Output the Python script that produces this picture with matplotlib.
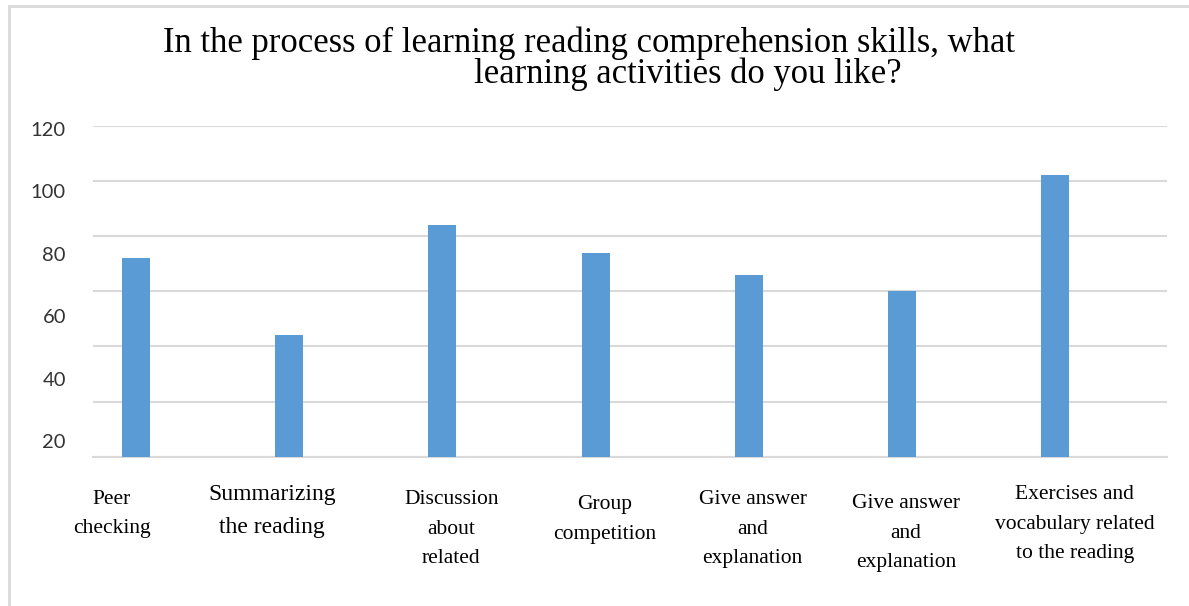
import matplotlib.pyplot as plt
from matplotlib.patches import Rectangle

categories = ['Peer\nchecking', 'Summarizing\nthe reading', 'Discussion\nabout\nrelated',
              'Group\ncompetition', 'Give answer\nand\nexplanation', 'Give answer\nand\nexplanation',
              'Exercises and\nvocabulary related\nto the reading']
values = [72, 44, 84, 74, 66, 60, 102]
ytick_labels = [20, 40, 60, 80, 100, 120]

# label nudges (x in bar units, top in pixels) to follow the original layout
label_dx = [-0.157, -0.111, 0.059, 0.059, 0.026, 0.026, 0.128]
label_top = [490, 484, 490, 495, 490, 494, 485]
label_size = [15.5, 17, 15.5, 15.5, 15.5, 15.5, 15.5]

W, H = 1189, 606
fig = plt.figure(figsize=(W / 100, H / 100), dpi=100)
fig.patch.set_facecolor('white')
fig.patches.append(Rectangle((9 / W, -0.1), 1.2, (H - 6) / H + 0.1, transform=fig.transFigure,
                             fill=False, edgecolor='#d9d9d9', linewidth=2))

ax = fig.add_axes([93 / W, 1 - 456.7 / H, 1074 / W, 331 / H])
x = range(len(values))
ax.bar(x, values, width=0.183, color='#5b9bd5', zorder=3)
# the category band is shifted left of the gridlines in the original
ax.set_xlim(-0.28, len(values) - 0.27)
ax.set_ylim(0, 120)
ax.set_yticks(range(0, 121, 20))
ax.yaxis.grid(True, color='#d9d9d9', linewidth=1.5)
for s in ['top', 'right', 'left']:
    ax.spines[s].set_visible(False)
ax.spines['bottom'].set_color('#d9d9d9')
ax.spines['bottom'].set_linewidth(1.5)

# value labels sit on their own (offset) scale in the original
ax2 = ax.twinx()
ax2.set_ylim(14.97, 121.06)
ax2.set_yticks(ytick_labels)
ax2.yaxis.set_ticks_position('left')
ax2.set_yticklabels([str(v) for v in ytick_labels], fontsize=14.5, family='Lato', color='#333333')
for s in ax2.spines.values():
    s.set_visible(False)
ax.tick_params(left=False, right=False, bottom=False, labelleft=False, labelbottom=False)
ax2.tick_params(left=False, right=False, labelleft=True, labelright=False, pad=16)

for i, lab in enumerate(categories):
    xf = ax.transData.transform((i + label_dx[i], 0))[0] / W
    fig.text(xf, 1 - label_top[i] / H, lab, ha='center', va='top', fontsize=label_size[i],
             family='Liberation Serif', linespacing=1.75)

fig.text(163 / W, 1 - 52 / H, 'In the process of learning reading comprehension skills, what',
         ha='left', va='baseline', fontsize=24.9, family='Liberation Serif')
fig.text(474 / W, 1 - 83 / H, 'learning activities do you like?',
         ha='left', va='baseline', fontsize=24.9, family='Liberation Serif')

fig.savefig('out.png', dpi=100, facecolor='white')
